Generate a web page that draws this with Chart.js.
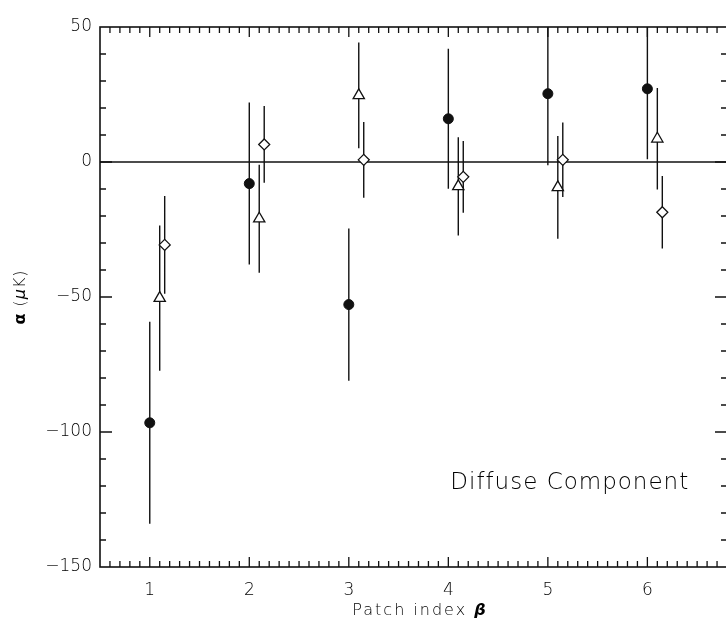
<!DOCTYPE html>
<html>
<head>
<meta charset="utf-8">
<title>Diffuse Component</title>
<script src="https://cdn.jsdelivr.net/npm/chart.js@4.4.0/dist/chart.umd.min.js"></script>
<style>
  html, body { margin: 0; padding: 0; background: #fff; overflow: hidden; }
  #wrap { width: 726px; height: 623px; overflow: hidden; }
  canvas { display: block; }
</style>
</head>
<body>
<div id="wrap"><canvas id="patchChart" width="740" height="623"></canvas></div>
<script>
const patches = [1, 2, 3, 4, 5, 6];
const xTicks = [1, 2, 3, 4, 5, 6];
const yTicks = [-150, -100, -50, 0, 50];

// filled circles
const circleValues = [-96.6, -8, -52.8, 16, 25.3, 27.1];
const circleErrors = [37.4, 30, 28.2, 25.9, 26.5, 26.1];
// open triangles
const triangleValues = [-50.4, -21, 24.7, -9, -9.4, 8.6];
const triangleErrors = [26.9, 20, 19.6, 18.2, 19, 18.8];
// open diamonds
const diamondValues = [-30.7, 6.5, 0.8, -5.5, 0.8, -18.6];
const diamondErrors = [18.1, 14.2, 14, 13.3, 13.8, 13.4];

// small x offsets so the three sets don't sit on top of each other
const triangleShift = 0.1;
const diamondShift = 0.15;
const labelAt = { x: 4.02, y: -121 };

const ink = '#111';
const textInk = '#000';
const family = "'DejaVu Sans', sans-serif";
const tickFont = { family: family, size: 17, weight: 200 };

function toPoints(values, shift) {
  return values.map((v, i) => ({ x: patches[i] + shift, y: v }));
}

// draws a line of text made of several differently styled pieces
function drawRuns(ctx, runs, cx, cy) {
  let total = 0;
  runs.forEach(r => {
    ctx.font = r.font;
    r.w = ctx.measureText(r.text).width;
    total += r.w;
  });
  let x = cx - total / 2;
  runs.forEach(r => {
    ctx.font = r.font;
    ctx.fillText(r.text, x, cy);
    x += r.w;
  });
}

const framePlugin = {
  id: 'frame',
  beforeDatasetsDraw(chart) {
    const { ctx, chartArea: a, scales: { x, y } } = chart;
    ctx.save();
    ctx.beginPath();
    ctx.rect(a.left, a.top, a.width, a.height);
    ctx.clip();

    // zero line
    ctx.strokeStyle = ink;
    ctx.lineWidth = 1.5;
    const y0 = y.getPixelForValue(0);
    ctx.beginPath();
    ctx.moveTo(a.left, y0);
    ctx.lineTo(a.right, y0);
    ctx.stroke();

    // error bars
    ctx.lineWidth = 1.4;
    ctx.beginPath();
    chart.data.datasets.forEach(ds => {
      ds.data.forEach((p, j) => {
        const px = x.getPixelForValue(p.x);
        ctx.moveTo(px, y.getPixelForValue(p.y + ds.errors[j]));
        ctx.lineTo(px, y.getPixelForValue(p.y - ds.errors[j]));
      });
    });
    ctx.stroke();
    ctx.restore();
  },
  afterDraw(chart) {
    const { ctx, chartArea: a, scales: { x, y } } = chart;
    ctx.save();
    ctx.strokeStyle = ink;
    ctx.lineWidth = 1.6;
    ctx.strokeRect(a.left, a.top, a.width, a.height);

    // inward ticks on all four sides
    ctx.lineWidth = 1.3;
    ctx.beginPath();
    for (let k = 6; k <= 67; k++) {
      const px = x.getPixelForValue(k / 10);
      const len = k % 10 === 0 ? 10 : 6;
      ctx.moveTo(px, a.bottom);
      ctx.lineTo(px, a.bottom - len);
      ctx.moveTo(px, a.top);
      ctx.lineTo(px, a.top + len);
    }
    for (let v = -140; v <= 40; v += 10) {
      const py = y.getPixelForValue(v);
      const len = v % 50 === 0 ? 12 : 6;
      ctx.moveTo(a.left, py);
      ctx.lineTo(a.left + len, py);
      ctx.moveTo(a.right, py);
      ctx.lineTo(a.right - len, py);
    }
    ctx.stroke();

    ctx.fillStyle = textInk;
    ctx.textBaseline = 'middle';
    ctx.textAlign = 'left';

    // x axis title
    ctx.letterSpacing = '2px';
    drawRuns(ctx, [
      { text: 'Patch index ', font: `200 16px ${family}` },
      { text: 'β', font: `italic bold 16px ${family}` }
    ], 420, 611);

    // y axis title, rotated
    ctx.letterSpacing = '1px';
    ctx.save();
    ctx.translate(21, (a.top + a.bottom) / 2);
    ctx.rotate(-Math.PI / 2);
    drawRuns(ctx, [
      { text: 'α', font: `bold 16px ${family}` },
      { text: ' (', font: `200 16px ${family}` },
      { text: 'μ', font: `italic 16px ${family}` },
      { text: 'K)', font: `200 16px ${family}` }
    ], 0, 0);
    ctx.restore();

    // panel label
    ctx.letterSpacing = '1px';
    ctx.textBaseline = 'alphabetic';
    ctx.font = `200 23px ${family}`;
    ctx.fillText('Diffuse Component', x.getPixelForValue(labelAt.x), y.getPixelForValue(labelAt.y));
    ctx.restore();
  }
};

new Chart(document.getElementById('patchChart'), {
  type: 'scatter',
  data: {
    datasets: [
      {
        label: 'circles',
        data: toPoints(circleValues, 0),
        errors: circleErrors,
        pointStyle: 'circle',
        pointRadius: 5,
        backgroundColor: ink,
        borderColor: ink,
        borderWidth: 1
      },
      {
        label: 'triangles',
        data: toPoints(triangleValues, triangleShift),
        errors: triangleErrors,
        pointStyle: 'triangle',
        pointRadius: 6.5,
        backgroundColor: '#fff',
        borderColor: ink,
        borderWidth: 1.3
      },
      {
        label: 'diamonds',
        data: toPoints(diamondValues, diamondShift),
        errors: diamondErrors,
        pointStyle: 'rectRot',
        pointRadius: 5.5,
        backgroundColor: '#fff',
        borderColor: ink,
        borderWidth: 1.3
      }
    ]
  },
  options: {
    responsive: false,
    animation: false,
    layout: { padding: { top: 27, right: 13, left: 0, bottom: 0 } },
    plugins: {
      legend: { display: false },
      tooltip: { enabled: false }
    },
    scales: {
      x: {
        type: 'linear',
        min: 0.5,
        max: 6.8,
        grid: { display: false, drawTicks: false },
        border: { display: false },
        afterBuildTicks: s => { s.ticks = xTicks.map(v => ({ value: v })); },
        afterFit: s => { s.height = 56; },
        ticks: { font: tickFont, color: textInk, padding: 13, maxRotation: 0 }
      },
      y: {
        min: -150,
        max: 50,
        grid: { display: false, drawTicks: false },
        border: { display: false },
        afterBuildTicks: s => { s.ticks = yTicks.map(v => ({ value: v })); },
        afterFit: s => { s.width = 100; },
        ticks: {
          font: tickFont,
          color: textInk,
          padding: 8,
          callback: v => (v < 0 ? '\u2212' + Math.abs(v) : String(v))
        }
      }
    }
  },
  plugins: [framePlugin]
});
</script>
</body>
</html>
